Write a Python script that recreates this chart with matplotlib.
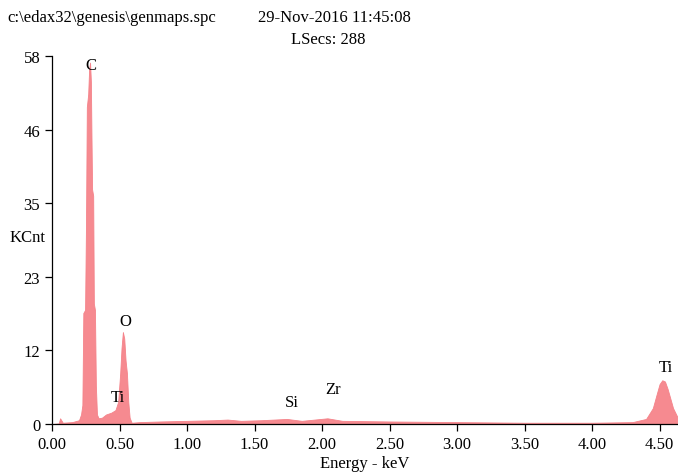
import numpy as np
import matplotlib.pyplot as plt

plt.rcParams['font.family'] = ['Liberation Serif', 'DejaVu Serif']

# EDS spectrum (energy in keV, counts in KCnt)
energy = [0.00, 0.05, 0.06, 0.08, 0.15, 0.20, 0.215, 0.225, 0.232, 0.245,
          0.252, 0.258, 0.268, 0.275, 0.282, 0.288, 0.292, 0.297, 0.305, 0.310,
          0.318, 0.325, 0.333, 0.345, 0.37, 0.40, 0.44, 0.47, 0.49, 0.505,
          0.515, 0.525, 0.535, 0.545, 0.555, 0.565, 0.575, 0.59, 0.65, 0.80,
          1.00, 1.20, 1.30, 1.40, 1.55, 1.74, 1.85, 2.04, 2.15, 2.50,
          3.00, 3.50, 4.00, 4.30, 4.40, 4.45, 4.48, 4.50, 4.52, 4.54,
          4.56, 4.58, 4.60, 4.63]
counts = [0.0, 0.1, 0.9, 0.2, 0.3, 0.6, 1.5, 3.0, 17.5, 18.0,
          32.0, 50.0, 52.0, 56.0, 57.0, 54.0, 46.0, 37.0, 36.0, 19.0,
          18.0, 6.0, 1.5, 0.9, 1.0, 1.5, 1.8, 2.2, 3.5, 8.0,
          12.0, 14.5, 13.5, 10.0, 8.0, 3.5, 1.0, 0.2, 0.3, 0.4,
          0.5, 0.6, 0.7, 0.5, 0.6, 0.8, 0.5, 0.9, 0.5, 0.4,
          0.3, 0.2, 0.2, 0.3, 0.8, 2.5, 4.8, 6.3, 6.9, 6.7,
          5.5, 4.0, 2.5, 1.2]

# peak labels
peak_names = ['C', 'O', 'Ti', 'Si', 'Zr', 'Ti']
peak_x = [0.289, 0.54, 0.488, 1.776, 2.08, 4.545]
peak_y = [56.6, 16.3, 4.25, 3.5, 5.5, 9.0]

x_ticks = [0.0, 0.5, 1.0, 1.5, 2.0, 2.5, 3.0, 3.5, 4.0, 4.5]
y_ticks = np.linspace(0, 58, 6)
y_labels = ['0', '12', '23', '35', '46', '58']

fs = 12

fig = plt.figure(figsize=(6.78, 4.77), dpi=100)
ax = fig.add_axes([0.0767, 0.109, 0.922, 0.771])

ax.fill_between(energy, counts, 0, color='#f68a90', linewidth=0.6, edgecolor='#f5838a')

for name, x, y in zip(peak_names, peak_x, peak_y):
    ax.text(x, y, name, ha='center', va='center', fontsize=fs)

ax.set_xlim(0, 4.63)
ax.set_ylim(0, 58)
ax.set_xticks(x_ticks)
ax.set_xticklabels([f'{v:.2f}' for v in x_ticks])
ax.set_yticks(y_ticks)
ax.set_yticklabels(y_labels)
ax.tick_params(direction='out', length=5, width=0.9, labelsize=fs, colors='black')
ax.spines['top'].set_visible(False)
ax.spines['right'].set_visible(False)
for s in ['left', 'bottom']:
    ax.spines[s].set_linewidth(0.9)

ax.set_xlabel('Energy - keV', fontsize=fs, labelpad=2)

fig.text(7 / 678, 1 - 18 / 477, 'c:\\edax32\\genesis\\genmaps.spc', fontsize=fs, va='center')
fig.text(258 / 678, 1 - 18 / 477, '29-Nov-2016 11:45:08', fontsize=fs, va='center')
fig.text(328 / 678, 1 - 40 / 477, 'LSecs: 288', fontsize=fs, va='center', ha='center')
fig.text(10 / 678, 1 - 238 / 477, 'KCnt', fontsize=fs, va='center')

fig.savefig('out.png', dpi=100)
